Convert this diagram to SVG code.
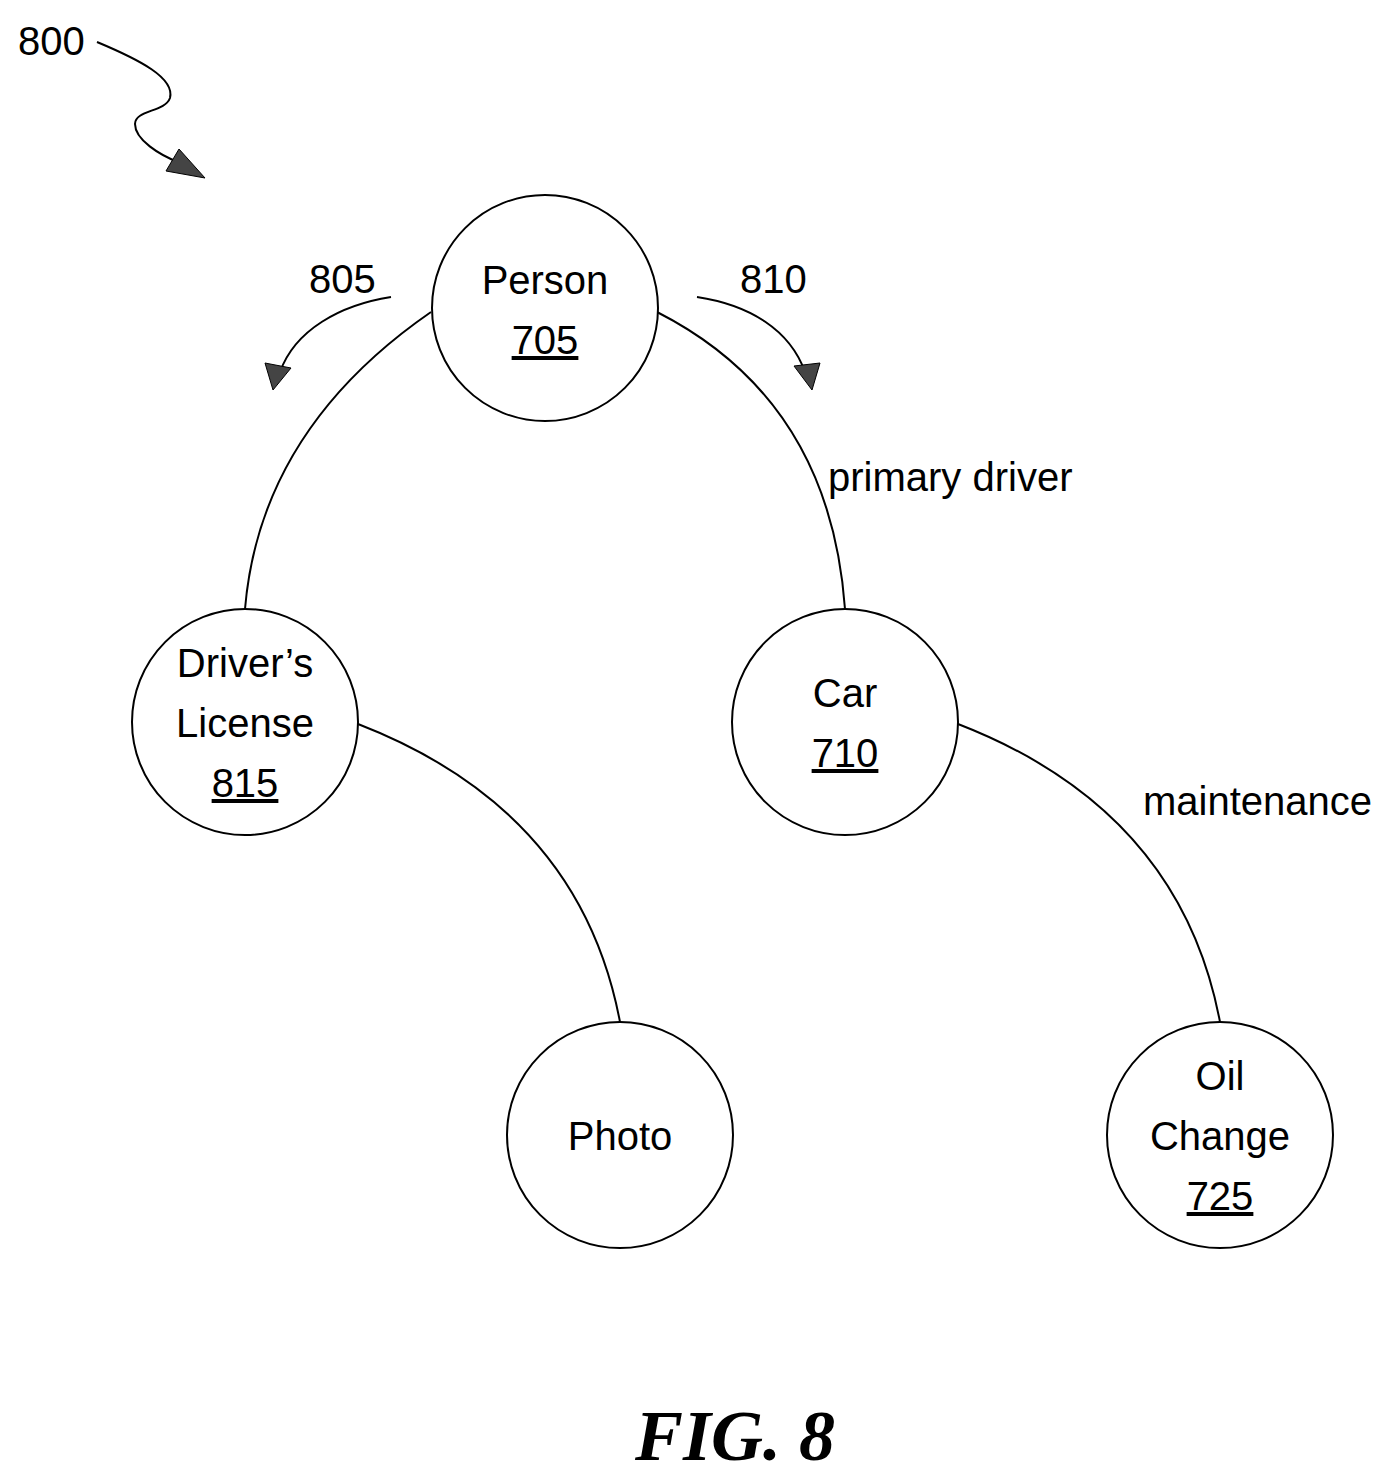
<svg xmlns="http://www.w3.org/2000/svg" width="1397" height="1483" viewBox="0 0 1397 1483">
<style>
.n{fill:#fff;stroke:#000;stroke-width:2}
.e{fill:none;stroke:#000;stroke-width:2}
.t{font-family:"Liberation Sans",Arial,sans-serif;font-size:40px;fill:#000}
.m{text-anchor:middle}
.h{fill:#444;stroke:#000;stroke-width:1}
</style>
<rect width="1397" height="1483" fill="#fff"/>
<g id="connectors">
<path class="e" d="M431,312 Q260,430 245,609"/>
<path class="e" d="M657,312 Q830,400 845,609"/>
<path class="e" d="M358,724 Q580,810 620,1022"/>
<path class="e" d="M958,724 Q1180,810 1220,1022"/>
</g>
<g id="ref-arrows">
<path class="e" d="M97,42 C140,60 175,78 170,98 C165,112 135,110 135,124 C135,140 160,155 178,162"/>
<polygon class="h" points="205,178 179,149 166,171"/>
<path class="e" d="M391,297 C340,305 295,330 280,372"/>
<polygon class="h" points="273,390 265,363 291,368"/>
<path class="e" d="M697,297 C750,305 790,330 805,372"/>
<polygon class="h" points="812,390 794,366 820,363"/>
<text class="t" x="18" y="55">800</text>
<text class="t" x="309" y="293">805</text>
<text class="t" x="740" y="293">810</text>
</g>
<g id="person"><circle class="n" cx="545" cy="308" r="113"/><text class="t m" x="545" y="294">Person</text><text class="t m" x="545" y="354" text-decoration="underline">705</text></g>
<g id="license"><circle class="n" cx="245" cy="722" r="113"/><text class="t m" x="245" y="677">Driver’s</text><text class="t m" x="245" y="737">License</text><text class="t m" x="245" y="797" text-decoration="underline">815</text></g>
<g id="car"><circle class="n" cx="845" cy="722" r="113"/><text class="t m" x="845" y="707">Car</text><text class="t m" x="845" y="767" text-decoration="underline">710</text></g>
<g id="photo"><circle class="n" cx="620" cy="1135" r="113"/><text class="t m" x="620" y="1150">Photo</text></g>
<g id="oil"><circle class="n" cx="1220" cy="1135" r="113"/><text class="t m" x="1220" y="1090">Oil</text><text class="t m" x="1220" y="1150">Change</text><text class="t m" x="1220" y="1210" text-decoration="underline">725</text></g>
<text class="t" x="828" y="491">primary driver</text>
<text class="t" x="1143" y="815">maintenance</text>
<text x="735" y="1460" text-anchor="middle" font-family="Liberation Serif,serif" font-weight="bold" font-style="italic" font-size="72">FIG. 8</text>
</svg>
